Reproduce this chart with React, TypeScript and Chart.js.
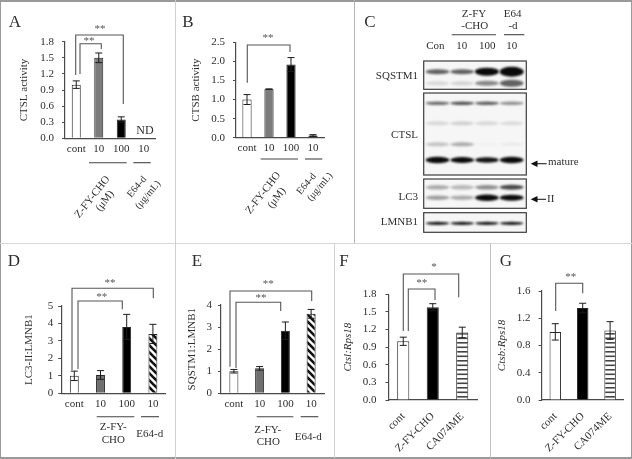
import React, { useEffect, useRef } from "react";
import { Chart, registerables } from "chart.js";

Chart.register(...registerables);

const W = 632;
const H = 459;
const SERIF = '"Liberation Serif", "Times New Roman", serif';
const INK = "#2e2e2e";
const LINE = "#4a4a4a";

// ---- data ----
const doseCategories = ["cont", "10", "100", "10"];
const drugCategories = ["cont", "Z-FY-CHO", "CA074ME"];

const ctslActivity = [1.0, 1.5, 0.35, 0.01];
const ctslActivityErr = [0.07, 0.09, 0.05, 0.0];
const ctsbActivity = [1.0, 1.27, 1.92, 0.06];
const ctsbActivityErr = [0.13, 0.01, 0.18, 0.02];
const lc3Ratio = [1.0, 1.05, 3.8, 3.4];
const lc3RatioErr = [0.27, 0.25, 0.72, 0.55];
const sqstm1Ratio = [1.0, 1.13, 2.83, 3.6];
const sqstm1RatioErr = [0.08, 0.08, 0.4, 0.2];
const ctslMrna = [1.0, 1.58, 1.15];
const ctslMrnaErr = [0.07, 0.06, 0.09];
const ctsbMrna = [1.0, 1.35, 1.02];
const ctsbMrnaErr = [0.12, 0.07, 0.13];

// blot band densities per lane (Con, 10, 100, E64-d), 0..1
const blotLanes = [0, 1, 2, 3];
const sqstm1Upper = [0.6, 0.6, 0.97, 1.0];
const sqstm1Lower = [0.12, 0.14, 0.45, 0.6];
const ctslTop = [0.55, 0.65, 0.6, 0.4];
const ctslMid = [0.12, 0.15, 0.12, 0.1];
const ctslLow = [0.2, 0.3, 0.02, 0.04];
const ctslMature = [1.0, 0.97, 0.92, 0.97];
const lc3One = [0.3, 0.25, 0.42, 0.7];
const lc3Two = [0.35, 0.3, 1.0, 0.97];
const lmnb1 = [0.9, 0.9, 0.9, 0.9];

// ---- drawing helpers ----
type Txt = { t: string; x: number; y: number; s?: number; r?: number; a?: CanvasTextAlign; c?: string };
type Poly = number[][];

function drawTexts(ctx: CanvasRenderingContext2D, list: Txt[]) {
  for (const o of list) {
    ctx.save();
    ctx.translate(o.x, o.y);
    if (o.r) ctx.rotate((o.r * Math.PI) / 180);
    ctx.font = `${o.s ?? 11}px ${SERIF}`;
    ctx.fillStyle = o.c ?? INK;
    ctx.textAlign = o.a ?? "center";
    ctx.textBaseline = "middle";
    ctx.fillText(o.t, 0, 0);
    ctx.restore();
  }
}

function drawPolys(ctx: CanvasRenderingContext2D, list: Poly[], color = LINE, width = 1.1) {
  ctx.save();
  ctx.strokeStyle = color;
  ctx.lineWidth = width;
  for (const p of list) {
    ctx.beginPath();
    p.forEach(([x, y], i) => (i ? ctx.lineTo(x, y) : ctx.moveTo(x, y)));
    ctx.stroke();
  }
  ctx.restore();
}

function makePattern(kind: "hatch" | "stripe"): CanvasPattern {
  const c = document.createElement("canvas");
  const ctx = c.getContext("2d") as CanvasRenderingContext2D;
  if (kind === "hatch") {
    c.width = 7;
    c.height = 7;
    ctx.fillStyle = "#fff";
    ctx.fillRect(0, 0, 7, 7);
    ctx.strokeStyle = "#111";
    ctx.lineWidth = 2.6;
    for (const d of [-7, 0, 7]) {
      ctx.beginPath();
      ctx.moveTo(d - 1, -1);
      ctx.lineTo(d + 8, 8);
      ctx.stroke();
    }
  } else {
    c.width = 4;
    c.height = 9;
    ctx.fillStyle = "#fff";
    ctx.fillRect(0, 0, 4, 9);
    ctx.fillStyle = "#444";
    ctx.fillRect(0, 0, 4, 1.6);
    ctx.fillRect(0, 4.5, 4, 1.6);
  }
  return ctx.createPattern(c, "repeat") as CanvasPattern;
}

type Panel = {
  cats: string[];
  values: number[];
  errs: number[];
  fills: string[];
  yMax: number;
  yStep: number;
  dec: number;
  yTitle: string;
  italicTitle?: boolean;
  titleX: number;
  L: number;
  R: number;
  T: number;
  B: number;
  barPct: number;
  yPad: number;
  xPad: number;
  rotate?: number;
  texts: Txt[];
  polys: Poly[];
  under?: Poly[];
};

const panels: Panel[] = [
  {
    cats: doseCategories, values: ctslActivity, errs: ctslActivityErr,
    fills: ["#ffffff", "#7b7b7b", "#000000", "#000000"],
    yMax: 1.8, yStep: 0.3, dec: 1, yTitle: "CTSL activity", titleX: 24,
    L: 65, R: 155, T: 41.7, B: 138.3, barPct: 0.4, yPad: 8, xPad: 4,
    texts: [
      { t: "A", x: 15, y: 23, s: 17 },
      { t: "**", x: 100, y: 29, s: 11, c: "#555" },
      { t: "**", x: 89, y: 41, s: 11, c: "#555" },
      { t: "ND", x: 145, y: 130.5, s: 12 },
      { t: "Z-FY-CHO", x: 92.5, y: 197, r: -52 },
      { t: "(μM)", x: 105, y: 201, r: -52 },
      { t: "E64-d", x: 137, y: 187, s: 10, r: -50 },
      { t: "(μg/mL)", x: 148, y: 195, s: 10, r: -50 },
    ],
    polys: [
      [[75.7, 75], [75.7, 35], [123.3, 35], [123.3, 104]],
      [[80, 74], [80, 43.7], [101.3, 43.7], [101.3, 49]],
    ],
    under: [[[89, 162.7], [126.7, 162.7]], [[133.3, 162.7], [150.7, 162.7]]],
  },
  {
    cats: doseCategories, values: ctsbActivity, errs: ctsbActivityErr,
    fills: ["#ffffff", "#7b7b7b", "#000000", "#000000"],
    yMax: 2.5, yStep: 0.5, dec: 1, yTitle: "CTSB activity", titleX: 196,
    L: 236, R: 324, T: 42.3, B: 137.7, barPct: 0.42, yPad: 8, xPad: 4,
    texts: [
      { t: "B", x: 188, y: 23, s: 17 },
      { t: "**", x: 268, y: 38, s: 11, c: "#555" },
      { t: "Z-FY-CHO", x: 263.3, y: 193, r: -52 },
      { t: "(μM)", x: 276.7, y: 198, r: -52 },
      { t: "E64-d", x: 306.7, y: 184, s: 10, r: -50 },
      { t: "(μg/mL)", x: 320, y: 187, s: 10, r: -50 },
    ],
    polys: [[[247.3, 82.7], [247.3, 45], [290, 45], [290, 52]]],
    under: [[[260.7, 159], [298, 159]], [[305, 159], [322.3, 159]]],
  },
  {
    cats: doseCategories, values: lc3Ratio, errs: lc3RatioErr,
    fills: ["#ffffff", "#6f6f6f", "#000000", "hatch"],
    yMax: 5, yStep: 1, dec: 0, yTitle: "LC3-II:LMNB1", titleX: 29,
    L: 61.2, R: 166, T: 306, B: 393.3, barPct: 0.34, yPad: 5, xPad: 4,
    texts: [
      { t: "D", x: 14, y: 262, s: 17 },
      { t: "**", x: 110, y: 283, s: 11, c: "#555" },
      { t: "**", x: 101.7, y: 297, s: 11, c: "#555" },
      { t: "Z-FY-", x: 113.3, y: 427.3 },
      { t: "CHO", x: 113.3, y: 440 },
      { t: "E64-d", x: 149.7, y: 434.3 },
    ],
    polys: [
      [[72, 370], [72, 288.3], [153.3, 288.3], [153.3, 298.3]],
      [[78, 369], [78, 301], [122.3, 301], [122.3, 309.3]],
    ],
    under: [[[96.7, 416.7], [134.3, 416.7]], [[141, 416.7], [159, 416.7]]],
  },
  {
    cats: doseCategories, values: sqstm1Ratio, errs: sqstm1RatioErr,
    fills: ["#ffffff", "#6f6f6f", "#000000", "hatch"],
    yMax: 4, yStep: 1, dec: 0, yTitle: "SQSTM1:LMNB1", titleX: 191.7,
    L: 221, R: 324, T: 305, B: 393.3, barPct: 0.35, yPad: 6, xPad: 4,
    texts: [
      { t: "E", x: 197, y: 262, s: 17 },
      { t: "**", x: 268.3, y: 284.5, s: 11, c: "#555" },
      { t: "**", x: 261, y: 298, s: 11, c: "#555" },
      { t: "Z-FY-", x: 267.7, y: 430 },
      { t: "CHO", x: 268.3, y: 442.3 },
      { t: "E64-d", x: 308.3, y: 437.3 },
    ],
    polys: [
      [[230, 366.7], [230, 291], [311.7, 291], [311.7, 301]],
      [[236, 368], [236, 302.3], [280.7, 302.3], [280.7, 311]],
    ],
    under: [[[256.7, 416.7], [293.3, 416.7]], [[300.7, 416.7], [318.3, 416.7]]],
  },
  {
    cats: drugCategories, values: ctslMrna, errs: ctslMrnaErr,
    fills: ["#ffffff", "#000000", "stripe"],
    yMax: 1.8, yStep: 0.3, dec: 1, yTitle: "Ctsl:Rps18", italicTitle: true, titleX: 347.7,
    L: 388.5, R: 477, T: 294.3, B: 400, barPct: 0.41, yPad: 9, xPad: 10, rotate: 45,
    texts: [
      { t: "F", x: 344, y: 262, s: 17 },
      { t: "*", x: 434, y: 267, s: 11, c: "#555" },
      { t: "**", x: 421.7, y: 283, s: 11, c: "#555" },
    ],
    polys: [
      [[403.3, 331], [403.3, 274], [458.7, 274], [458.7, 297.3]],
      [[408.3, 331], [408.3, 289], [435, 289], [435, 300]],
    ],
  },
  {
    cats: drugCategories, values: ctsbMrna, errs: ctsbMrnaErr,
    fills: ["#ffffff", "#000000", "stripe"],
    yMax: 1.6, yStep: 0.4, dec: 1, yTitle: "Ctsb:Rps18", italicTitle: true, titleX: 501.7,
    L: 541.6, R: 623.8, T: 291, B: 400, barPct: 0.42, yPad: 8, xPad: 10, rotate: 45,
    texts: [
      { t: "G", x: 506, y: 262, s: 17 },
      { t: "**", x: 570.7, y: 277, s: 11, c: "#555" },
    ],
    polys: [[[555.7, 311], [555.7, 283.3], [582.7, 283.3], [582.7, 293.3]]],
  },
];

// blot layout
const blotBoxes = [
  [423.7, 61, 526.3, 89.3],
  [423.7, 93, 526.3, 175],
  [423.7, 179, 526.3, 208.3],
  [423.7, 212.7, 526.3, 232.3],
];
const blotRows: { label: string; density: number[]; pos: number; thick: number[]; box: number }[] = [
  { label: "SQSTM1 upper", density: sqstm1Upper, pos: 71.7, thick: [4, 4, 7, 9], box: 0 },
  { label: "SQSTM1 lower", density: sqstm1Lower, pos: 83.3, thick: [3, 3, 4, 6], box: 0 },
  { label: "CTSL top", density: ctslTop, pos: 103.3, thick: [2.5, 2.5, 2.5, 2.5], box: 1 },
  { label: "CTSL mid", density: ctslMid, pos: 123.3, thick: [3, 3, 3, 3], box: 1 },
  { label: "CTSL low", density: ctslLow, pos: 144.3, thick: [3, 3, 3, 3], box: 1 },
  { label: "CTSL mature", density: ctslMature, pos: 160, thick: [5.5, 5, 4.5, 5.5], box: 1 },
  { label: "LC3-I", density: lc3One, pos: 187.3, thick: [3.5, 3.5, 3.5, 4], box: 2 },
  { label: "LC3-II", density: lc3Two, pos: 197.7, thick: [3.5, 3.5, 5.5, 5], box: 2 },
  { label: "LMNB1", density: lmnb1, pos: 223.3, thick: [2.2, 2.2, 2.2, 2.2], box: 3 },
];
const blotTexts: Txt[] = [
  { t: "C", x: 370, y: 23, s: 17 },
  { t: "Z-FY", x: 474, y: 14 },
  { t: "-CHO", x: 474.7, y: 26.5 },
  { t: "E64", x: 512.7, y: 14 },
  { t: "-d", x: 513, y: 26.5 },
  { t: "Con", x: 435.3, y: 46 },
  { t: "10", x: 461.7, y: 46 },
  { t: "100", x: 487.3, y: 46 },
  { t: "10", x: 511.7, y: 46 },
  { t: "SQSTM1", x: 418, y: 76, a: "right" },
  { t: "CTSL", x: 418, y: 135, a: "right" },
  { t: "LC3", x: 418, y: 196.7, a: "right" },
  { t: "LMNB1", x: 418, y: 221.7, a: "right" },
  { t: "mature", x: 548, y: 162, a: "left" },
  { t: "II", x: 547, y: 199, a: "left" },
];

function makePanelChart(canvas: HTMLCanvasElement, p: Panel) {
  const pad = p.titleX - 6.6;
  const fills = p.fills.map((f) =>
    f === "hatch" ? makePattern("hatch") : f === "stripe" ? makePattern("stripe") : f
  );
  return new Chart(canvas, {
    type: "bar",
    data: {
      labels: p.cats,
      datasets: [
        {
          data: p.values,
          backgroundColor: fills as any,
          borderColor: "#262626",
          borderWidth: 1,
          categoryPercentage: 1,
          barPercentage: p.barPct,
        },
      ],
    },
    options: {
      animation: false,
      responsive: false,
      devicePixelRatio: 1,
      layout: { padding: { left: pad, top: p.T, right: W - p.R, bottom: 0 } },
      plugins: { legend: { display: false }, tooltip: { enabled: false } },
      scales: {
        x: {
          type: "category",
          afterFit: (s: any) => { s.height = H - p.B; },
          border: { color: LINE, width: 1.2 },
          grid: { display: false, drawTicks: false, tickLength: 0 },
          ticks: {
            autoSkip: false,
            color: INK,
            padding: p.xPad,
            font: { family: SERIF, size: 11 },
            minRotation: p.rotate ?? 0,
            maxRotation: p.rotate ?? 0,
          },
        },
        y: {
          type: "linear",
          min: 0,
          max: p.yMax,
          afterFit: (s: any) => { s.width = p.L - pad; },
          border: { color: LINE, width: 1.2 },
          grid: { drawOnChartArea: false, drawTicks: true, tickLength: 3, color: LINE },
          title: {
            display: true,
            text: p.yTitle,
            color: INK,
            padding: 0,
            font: { family: SERIF, size: 11, style: p.italicTitle ? "italic" : "normal" },
          },
          ticks: {
            stepSize: p.yStep,
            autoSkip: false,
            color: INK,
            padding: p.yPad,
            font: { family: SERIF, size: 11 },
            callback: (v: any) => Number(v).toFixed(p.dec),
          },
        },
      },
    } as any,
    plugins: [
      {
        id: "annot",
        afterDatasetsDraw(chart: any) {
          const ctx = chart.ctx as CanvasRenderingContext2D;
          const meta = chart.getDatasetMeta(0);
          const y = chart.scales.y;
          ctx.save();
          ctx.strokeStyle = "#1c1c1c";
          ctx.lineWidth = 1;
          p.values.forEach((v, i) => {
            const e = p.errs[i];
            if (!e) return;
            const x = meta.data[i].x;
            const y1 = y.getPixelForValue(v + e);
            const y2 = y.getPixelForValue(v - e);
            ctx.beginPath();
            ctx.moveTo(x, y1);
            ctx.lineTo(x, y2);
            ctx.moveTo(x - 3.5, y1);
            ctx.lineTo(x + 3.5, y1);
            ctx.moveTo(x - 3.5, y2);
            ctx.lineTo(x + 3.5, y2);
            ctx.stroke();
          });
          ctx.restore();
          drawPolys(ctx, p.polys, "#555", 1.1);
          if (p.under) drawPolys(ctx, p.under, "#444", 1.1);
          drawTexts(ctx, p.texts);
        },
      },
    ],
  });
}

function makeBlotChart(canvas: HTMLCanvasElement) {
  return new Chart(canvas, {
    type: "scatter",
    data: {
      datasets: blotRows.map((r) => ({
        label: r.label,
        data: blotLanes.map((lane, i) => ({ x: lane, y: r.pos, v: r.density[i], th: r.thick[i] })),
        pointRadius: 0,
      })),
    } as any,
    options: {
      animation: false,
      responsive: false,
      devicePixelRatio: 1,
      layout: { padding: { left: 425.15, right: W - 524, top: 61, bottom: H - 232.3 } },
      plugins: { legend: { display: false }, tooltip: { enabled: false } },
      scales: {
        x: { type: "linear", min: -0.5, max: 3.5, display: false },
        y: { type: "linear", min: 61, max: 232.3, reverse: true, display: false },
      },
    } as any,
    plugins: [
      {
        id: "blot",
        afterDatasetsDraw(chart: any) {
          const ctx = chart.ctx as CanvasRenderingContext2D;
          ctx.save();
          ctx.fillStyle = "#f6f6f6";
          blotBoxes.forEach(([a, b, c, d]) => ctx.fillRect(a, b, c - a, d - b));
          blotRows.forEach((r, k) => {
            const [a, b, c, d] = blotBoxes[r.box];
            const meta = chart.getDatasetMeta(k);
            ctx.save();
            ctx.beginPath();
            ctx.rect(a, b, c - a, d - b);
            ctx.clip();
            meta.data.forEach((pt: any, i: number) => {
              const v = r.density[i];
              const th = r.thick[i];
              ctx.filter = `blur(${th > 4 ? 1.3 : 1}px)`;
              ctx.fillStyle = `rgba(10,10,10,${Math.min(1, v * 1.05)})`;
              ctx.beginPath();
              ctx.ellipse(pt.x, pt.y, 12, th / 2 + 0.5, 0, 0, Math.PI * 2);
              ctx.fill();
              ctx.filter = "none";
            });
            ctx.restore();
          });
          ctx.strokeStyle = "#3c3c3c";
          ctx.lineWidth = 1.2;
          blotBoxes.forEach(([a, b, c, d]) => ctx.strokeRect(a, b, c - a, d - b));
          ctx.restore();
          // arrows
          drawPolys(ctx, [[[534, 163.7], [546.7, 163.7]], [[534, 199.3], [546, 199.3]]], "#222", 1.1);
          ctx.save();
          ctx.fillStyle = "#111";
          for (const y of [163.7, 199.3]) {
            ctx.beginPath();
            ctx.moveTo(530.7, y);
            ctx.lineTo(537.5, y - 3.2);
            ctx.lineTo(537.5, y + 3.2);
            ctx.closePath();
            ctx.fill();
          }
          ctx.restore();
          drawPolys(ctx, [[[451.7, 34.7], [496, 34.7]], [[504, 34.7], [524.3, 34.7]]], "#444", 1.1);
          drawTexts(ctx, blotTexts);
        },
      },
    ],
  });
}

const frameLines: { l: number; t: number; w: number; h: number; c: string }[] = [
  { l: 0, t: 0, w: 632, h: 1.5, c: "#9a9a9a" },
  { l: 0, t: 0, w: 1.2, h: 459, c: "#9a9a9a" },
  { l: 630.6, t: 0, w: 1.4, h: 459, c: "#9a9a9a" },
  { l: 0, t: 457.4, w: 632, h: 1.6, c: "#9a9a9a" },
  { l: 0, t: 243, w: 632, h: 1.2, c: "#d6d6d6" },
  { l: 175, t: 0, w: 1, h: 459, c: "#d0d0d0" },
  { l: 354.3, t: 0, w: 1, h: 243, c: "#b4b4b4" },
  { l: 333.5, t: 244, w: 1, h: 214, c: "#d0d0d0" },
  { l: 490.4, t: 244, w: 1, h: 214, c: "#c0c0c0" },
];

export default function App() {
  const refs = useRef<(HTMLCanvasElement | null)[]>([]);
  useEffect(() => {
    const charts: Chart[] = [];
    panels.forEach((p, i) => charts.push(makePanelChart(refs.current[i] as HTMLCanvasElement, p)));
    charts.push(makeBlotChart(refs.current[panels.length] as HTMLCanvasElement));
    return () => charts.forEach((c) => c.destroy());
  }, []);
  return (
    <div style={{ position: "fixed", left: 0, top: 0, width: W, height: H, background: "#fff", overflow: "hidden" }}>
      {frameLines.map((f, i) => (
        <div key={i} style={{ position: "absolute", left: f.l, top: f.t, width: f.w, height: f.h, background: f.c }} />
      ))}
      <div style={{ position: "absolute", left: 0, top: 0, width: W, height: H, filter: "blur(0.35px)" }}>
        {[...panels, null].map((_, i) => (
          <canvas
            key={i}
            ref={(el) => { refs.current[i] = el; }}
            width={W}
            height={H}
            style={{ position: "absolute", left: 0, top: 0, width: W, height: H }}
          />
        ))}
      </div>
    </div>
  );
}
